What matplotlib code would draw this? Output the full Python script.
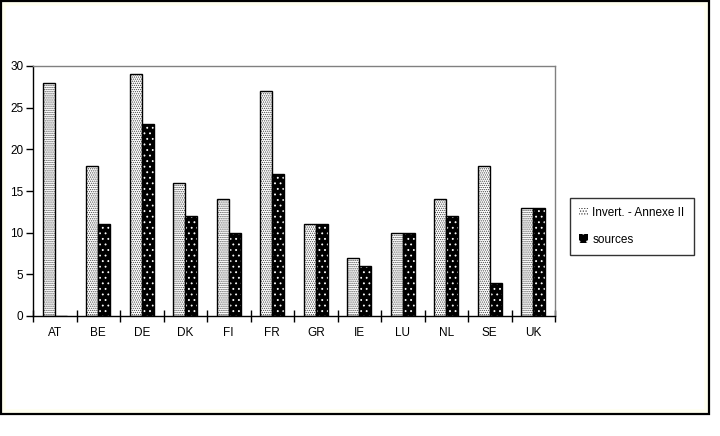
#!/usr/bin/env python3
"""Invert. - Annexe II vs sources, per member state (grouped bar chart)."""

import matplotlib

matplotlib.use("Agg")
import matplotlib.pyplot as plt
import numpy as np
from matplotlib.patches import Patch, Rectangle

countries = ["AT", "BE", "DE", "DK", "FI", "FR", "GR", "IE", "LU", "NL", "SE", "UK"]
invert_annexe = [28, 18, 29, 16, 14, 27, 11, 7, 10, 14, 18, 13]
sources = [0, 11, 23, 12, 10, 17, 11, 6, 10, 12, 4, 13]
y_ticks = [0, 5, 10, 15, 20, 25, 30]

W, H = 720, 436
plt.rcParams["font.family"] = ["Liberation Sans", "DejaVu Sans"]
plt.rcParams["hatch.linewidth"] = 0.6

fig = plt.figure(figsize=(W / 100, H / 100), dpi=100)
fig.patch.set_facecolor("white")

# outer frame with its cream inner band
fig.patches.append(
    Rectangle((3 / W, 1 - 412 / H), 704 / W, 409 / H, transform=fig.transFigure,
              facecolor="none", edgecolor="#fffff0", linewidth=4, zorder=-2)
)
fig.patches.append(
    Rectangle((1 / W, 1 - 414 / H), 708 / W, 413 / H, transform=fig.transFigure,
              facecolor="none", edgecolor="black", linewidth=1.6, zorder=-1)
)

ax = fig.add_axes([33 / W, (H - 316) / H, 522 / W, 250 / H])
ax.set_facecolor("white")

x = np.arange(len(countries))
width = 0.28

# light dotted series
ax.bar(x - width, invert_annexe, width, align="edge", color="white",
       edgecolor="#444444", hatch="........", linewidth=0)
ax.bar(x - width, invert_annexe, width, align="edge", color="none",
       edgecolor="black", linewidth=1)
# dark series with white dots
ax.bar(x, sources, width, align="edge", color="black",
       edgecolor="white", hatch="...", linewidth=0)
ax.bar(x, sources, width, align="edge", color="none",
       edgecolor="black", linewidth=1)

ax.set_xlim(-0.5, len(countries) - 0.5)
ax.set_ylim(0, 30)
ax.set_yticks(y_ticks)
ax.set_xticks(x)
ax.set_xticklabels(countries)
ax.set_xticks(np.arange(len(countries) + 1) - 0.5, minor=True)

ax.tick_params(axis="y", direction="out", length=5, width=1, labelsize=8.5, pad=2)
ax.tick_params(axis="x", which="major", length=0, labelsize=8.5, pad=8)
ax.tick_params(axis="x", which="minor", direction="inout", length=8, width=1)

for side in ("top", "right"):
    ax.spines[side].set_color("#808080")
    ax.spines[side].set_linewidth(1)
for side in ("left", "bottom"):
    ax.spines[side].set_color("black")
    ax.spines[side].set_linewidth(1)

handles = [
    Patch(facecolor="white", edgecolor="#444444", hatch="......", linewidth=0),
    Patch(facecolor="black", edgecolor="white", hatch="..", linewidth=0),
]
leg = fig.legend(
    handles, ["Invert. - Annexe II", "sources"],
    loc="upper left", bbox_to_anchor=(570 / W, 1 - 198 / H),
    frameon=True, fancybox=False, fontsize=8.5, labelspacing=1.2,
    handlelength=0.7, handleheight=0.7, handletextpad=0.4,
    borderpad=0.8, borderaxespad=0,
)
leg.get_frame().set_edgecolor("black")
leg.get_frame().set_linewidth(1)

fig.savefig("out.png", dpi=100)
